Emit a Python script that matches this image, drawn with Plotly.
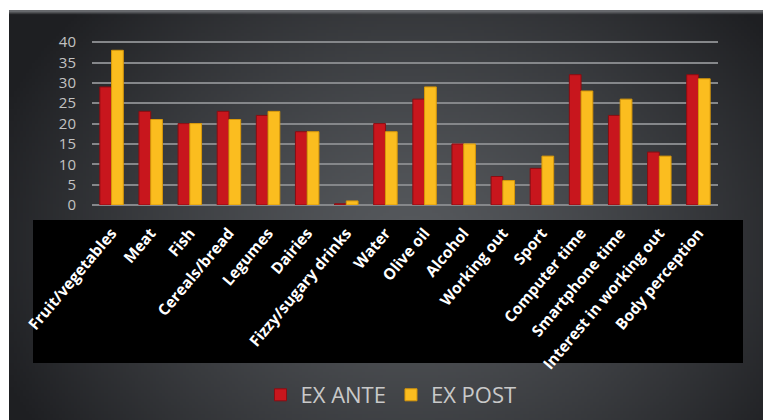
import base64, struct, zlib
import numpy as np
import plotly.graph_objects as go

categories = ["Fruit/vegetables", "Meat", "Fish", "Cereals/bread", "Legumes", "Dairies",
              "Fizzy/sugary drinks", "Water", "Olive oil", "Alcohol", "Working out", "Sport",
              "Computer time", "Smartphone time", "Interest in working out", "Body perception"]
ex_ante = [29, 23, 20, 23, 22, 18, 0.3, 20, 26, 15, 7, 9, 32, 22, 13, 32]
ex_post = [38, 21, 20, 21, 23, 18, 1, 18, 29, 15, 6, 12, 28, 26, 12, 31]
y_ticks = [0, 5, 10, 15, 20, 25, 30, 35, 40]


def gradient_png(w, h):
    yy, xx = np.mgrid[0:h, 0:w].astype(float)
    cx, cy = 0.52 * w, 0.55 * h
    r = np.sqrt(((xx - cx) / (0.58 * w)) ** 2 + ((yy - cy) / (0.85 * h)) ** 2)
    r = np.clip(r, 0, 1) ** 1.3
    c0 = np.array([0x56, 0x59, 0x5d], float)
    c1 = np.array([0x1e, 0x1f, 0x22], float)
    img = c0[None, None, :] * (1 - r[..., None]) + c1[None, None, :] * r[..., None]
    img[0, :, :] = np.array([0x66, 0x68, 0x6c])
    img = img.astype(np.uint8)
    raw = b"".join(b"\x00" + img[i].tobytes() for i in range(h))

    def chunk(t, d):
        c = struct.pack(">I", len(d)) + t + d
        return c + struct.pack(">I", zlib.crc32(t + d) & 0xffffffff)

    png = b"\x89PNG\r\n\x1a\n" + chunk(b"IHDR", struct.pack(">IIBBBBB", w, h, 8, 2, 0, 0, 0))
    png += chunk(b"IDAT", zlib.compress(raw, 9)) + chunk(b"IEND", b"")
    return "data:image/png;base64," + base64.b64encode(png).decode()


fig = go.Figure()
fig.add_trace(go.Bar(x=categories, y=ex_ante, name="EX ANTE",
                     marker=dict(color="#c8161d", line=dict(color="#8a0d12", width=1))))
fig.add_trace(go.Bar(x=categories, y=ex_post, name="EX POST",
                     marker=dict(color="#fbbd1f", line=dict(color="#d8980a", width=1))))

OFF = 8  # page body margin
W, H = 771, 420
L, T = 92 - OFF, 34 - OFF
PR, PB = 718 - OFF, 205 - OFF
R, B = W - PR, H - PB
pw, ph = PR - L, PB - T


def px(x):
    return (x - OFF - L) / pw


def py(y):
    return (PB - (y - OFF)) / ph


fig.add_layout_image(dict(source=gradient_png(254, 137), xref="paper", yref="paper",
                          x=px(9), y=py(10), sizex=(W + OFF - 9) / pw, sizey=(H + OFF - 10) / ph,
                          xanchor="left", yanchor="top", sizing="stretch", layer="below"))
fig.add_shape(type="rect", xref="paper", yref="paper", x0=px(33), x1=px(743),
              y0=py(220), y1=py(363), fillcolor="black", line=dict(width=0), layer="below")

fig.update_layout(
    width=W, height=H,
    margin=dict(l=L, r=R, t=T, b=B),
    paper_bgcolor="white", plot_bgcolor="rgba(0,0,0,0)",
    barmode="group", bargap=0.4, bargroupgap=0.0,
    showlegend=True,
    legend=dict(orientation="h", x=px(391), xanchor="center", y=py(395), yanchor="middle",
                font=dict(family="Open Sans", size=22, color="#c9c9c9"),
                bgcolor="rgba(0,0,0,0)", itemwidth=30),
    xaxis=dict(tickangle=-50, tickfont=dict(family="Open Sans", size=15.5, color="white",
                                            weight="bold"),
               ticks="outside", ticklen=12, tickcolor="rgba(0,0,0,0)",
               showgrid=False, showline=False, zeroline=False),
    yaxis=dict(range=[0, 42], tickvals=y_ticks, showgrid=True, gridcolor="#85878a",
               gridwidth=2, zeroline=True, zerolinecolor="#85878a", zerolinewidth=2,
               showline=False, ticks="outside", ticklen=12, tickcolor="rgba(0,0,0,0)",
               tickfont=dict(family="Open Sans", size=15, color="#c2c2c2")),
)

fig.write_html("out.html")
